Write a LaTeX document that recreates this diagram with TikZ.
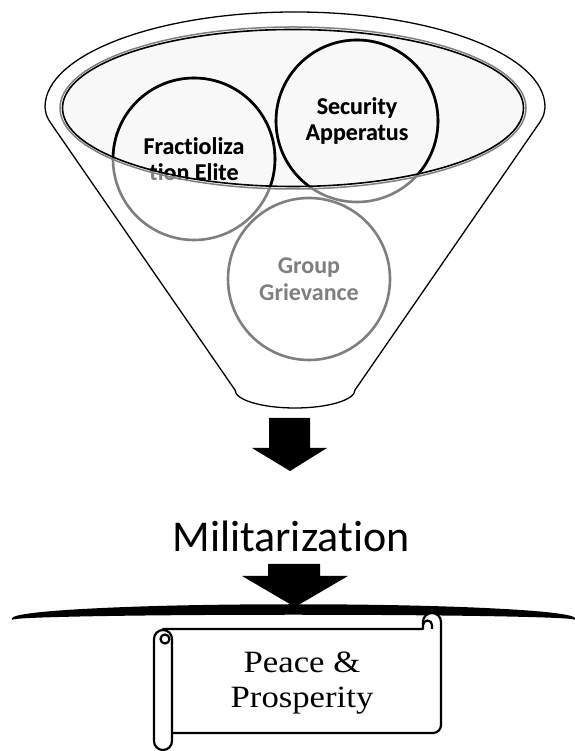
\documentclass[tikz,border=0pt]{standalone}
\usepackage{fontspec}
\setmainfont{Carlito}[Ligatures=NoCommon]
\newfontfamily\pfont[FakeStretch=1.12]{Liberation Serif}
\definecolor{cgray}{HTML}{7F7F7F}
\definecolor{efill}{HTML}{F8F8F8}
\begin{document}
\begin{tikzpicture}[x=1pt,y=1pt,
  ring/.style={circle, minimum size=162pt, inner sep=0pt, line width=2.6pt, align=center,
    font=\fontsize{24}{26.5}\selectfont\bfseries},
  blockarrow/.style={fill=black, draw=none},
  scrollline/.style={draw=black, fill=white, line width=2.2pt, line join=round}]
\useasboundingbox (0,0) rectangle (574,751);
% funnel outline
\draw[line width=1.3pt, fill=white, line join=round] (235,361) -- (50,629) .. controls (46,636) .. (45,644)
  arc[start angle=180,end angle=0,x radius=250pt,y radius=95pt]
  .. controls (544,636) .. (540,629) -- (355,361)
  arc[start angle=0,end angle=-180,x radius=60pt,y radius=18pt] -- cycle;
% inner ellipse fill
\fill[efill] (293,643) ellipse[x radius=231pt, y radius=79pt];
% circles (grey, outside part)
\node[ring, draw=cgray, text=cgray] (fe) at (194,592) {Fractioliza\\tion Elite};
\node[ring, draw=cgray, text=cgray] (sa) at (357,630) {Security\\Apperatus};
\node[ring, draw=cgray, text=cgray] (gg) at (309,472) {Group\\Grievance};
% part inside the ellipse in black
\begin{scope}
  \clip (293,643) ellipse[x radius=231pt, y radius=79pt];
  \node[ring, draw=black, text=black] (feb) at (fe) {Fractioliza\\tion Elite};
  \node[ring, draw=black, text=black] (sab) at (sa) {Security\\Apperatus};
\end{scope}
% ellipse outlines
\draw[cgray, line width=1.5pt] (293,643) ellipse[x radius=233pt, y radius=81pt];
\draw[black, line width=1.6pt] (293,643) ellipse[x radius=230.5pt, y radius=78.5pt];
% arrow 1
\fill[blockarrow] (269,333) -- (310,333) -- (310,303) -- (327,303) -- (290,280) -- (252,303) -- (269,303) -- cycle;
% label
\node[font=\fontsize{44}{50}\selectfont, anchor=base, inner sep=0pt] (mil) at (291,199) {Militarization};
% arrow 2
\fill[blockarrow] (268,187) -- (320,187) -- (320,175) -- (348,175) -- (295,144) -- (242,175) -- (268,175) -- cycle;
% bar
\fill[draw=black, line width=1.5pt, line join=round] (12.5,132) arc[start angle=180,end angle=0,x radius=281pt,y radius=14pt]
  arc[start angle=0,end angle=180,x radius=281pt,y radius=5pt] -- cycle;
% scroll body
\path[scrollline] (163,18) -- (433,18) arc[start angle=-90,end angle=0,radius=8pt] -- (441,129)
  arc[start angle=0,end angle=180,radius=9pt] -- (423,122) -- (163,122) -- cycle;
\draw[line width=2.2pt] (432,122) -- (432,126) arc[start angle=0,end angle=180,radius=4.5pt];
% left roll
\path[scrollline] (154,112) arc[start angle=180,end angle=0,radius=9pt] -- (172,10)
  arc[start angle=0,end angle=-180,radius=9pt] -- cycle;
\draw[line width=2.2pt] (165,112) circle[radius=4.5pt];
\node[font=\pfont\fontsize{31}{35}\selectfont, align=center, inner sep=0pt] (pp) at (302,68) {Peace \&\\Prosperity};
\end{tikzpicture}
\end{document}
